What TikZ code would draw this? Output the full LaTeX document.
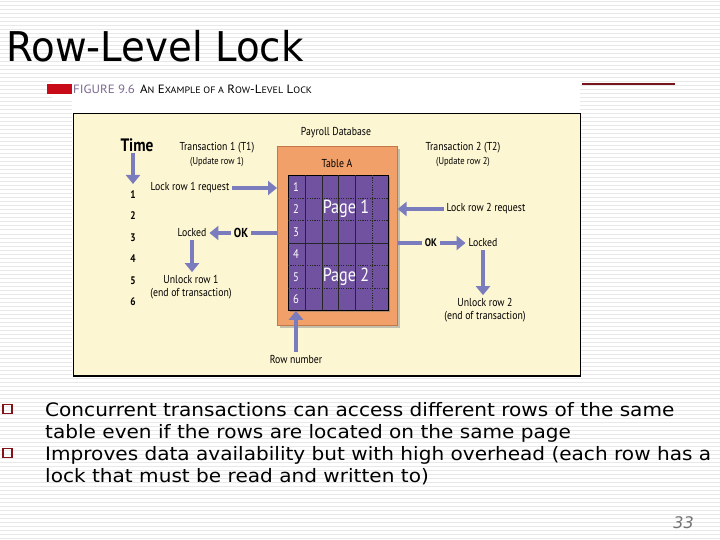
\documentclass[tikz,border=0pt]{standalone}
\usepackage{fontspec}
\usetikzlibrary{arrows.meta,calc,shadows}
\setmainfont{DejaVu Sans}
\newfontfamily\figfont[FakeStretch=0.85]{PT Sans}
\newfontfamily\capfont[FakeStretch=1.08]{PT Sans}
\newfontfamily\slidefont[FakeStretch=1.085]{DejaVu Sans}
\newfontfamily\titlefont[FakeStretch=0.945]{DejaVu Sans}
\definecolor{stripe}{RGB}{232,232,232}
\definecolor{panel}{RGB}{253,246,210}
\definecolor{arrowc}{RGB}{122,124,190}
\definecolor{orangeb}{RGB}{240,160,104}
\definecolor{oranged}{RGB}{196,120,72}
\definecolor{purpleg}{RGB}{112,82,160}
\definecolor{redbar}{RGB}{200,10,25}
\definecolor{capgray}{RGB}{125,105,145}
\definecolor{bulletred}{RGB}{130,20,25}
\definecolor{linered}{RGB}{120,20,30}
\newcommand\smc[1]{{\fontsize{9.3}{9.3}\selectfont #1}}
\tikzset{
  figtext/.style={inner sep=1pt, outer sep=2pt, align=center, font=\figfont\fontsize{11.5}{13}\selectfont},
  subtext/.style={inner sep=1pt, align=center, font=\figfont\fontsize{10}{11}\selectfont},
  numtext/.style={inner sep=1pt, font=\figfont\bfseries\fontsize{11}{11}\selectfont},
  rowtext/.style={inner sep=0pt, text=white, font=\figfont\fontsize{12.5}{12.5}\selectfont},
  pagetext/.style={inner sep=0pt, text=white, font=\figfont\fontsize{19}{19}\selectfont},
  arr/.style={draw=arrowc, line width=4.2pt, -{Triangle[length=9pt,width=14pt]}},
  bar/.style={draw=arrowc, line width=4.2pt},
  bullettext/.style={anchor=base west, inner sep=0pt, font=\slidefont\fontsize{18.5}{20}\selectfont},
  bulletbox/.style={draw=bulletred, line width=1.4pt, minimum size=9pt, inner sep=0pt},
  gridsolid/.style={draw=black!85, line width=0.6pt},
  griddot/.style={draw=black!85, line width=0.9pt, dash pattern=on 1.2pt off 1.2pt}
}
\begin{document}
\begin{tikzpicture}[x=1pt,y=-1pt]
\useasboundingbox (0,0) rectangle (720,540);
\fill[white] (0,0) rectangle (720,540);
\foreach \yy in {2,6,...,538} \draw[stripe, line width=1pt] (0,\yy) -- (720,\yy);

% title
\node[anchor=base west, inner sep=0pt, font=\titlefont\fontsize{41}{41}\selectfont] (title) at (6,62) {Row-Level Lock};

% figure area
\fill[white] (72,78) rectangle (580,378);
\fill[white] (52,78) rectangle (72,100);
\fill[redbar] (47,84) rectangle (72,94);
\draw[linered, line width=1.2pt] (582,84) -- (675,84);
\node[anchor=base west, inner sep=0pt, font=\capfont\fontsize{12}{12}\selectfont] (caption) at (73,94)
  {\textcolor{capgray}{FIGURE 9.6}\hspace{5pt}A\smc{N} E\smc{XAMPLE OF A} R\smc{OW}-L\smc{EVEL} L\smc{OCK}};

% yellow panel
\node[draw=black, fill=panel, line width=1pt, minimum width=507pt, minimum height=262pt, inner sep=0pt, anchor=north west] (panel) at (73,113) {};
\draw[black, line width=2.2pt] (panel.south west) -- (panel.south east);

% database
\node[figtext] (payroll) at (336,133) {Payroll Database};
\node[fill=orangeb, draw=oranged, line width=0.6pt, minimum width=120pt, minimum height=179pt, inner sep=0pt, anchor=north west,
      drop shadow={shadow xshift=3pt, shadow yshift=-3pt, fill=black!45}] (tbl) at (277,146) {};
\node[figtext] (tableA) at (337,163) {Table A};
\node[fill=purpleg, draw=black, line width=0.8pt, minimum width=100pt, minimum height=135pt, inner sep=0pt, anchor=north west,
      drop shadow={shadow xshift=2pt, shadow yshift=-2pt, fill=black!55}] (grid) at (288,175) {};
\foreach \xx in {305,322,338,355} \draw[gridsolid] (\xx,175) -- (\xx,310);
\draw[griddot] (372,175) -- (372,310);
\foreach \yy in {198,220,265,288} \draw[griddot] (288,\yy) -- (388,\yy);
\draw[gridsolid] (288,243) -- (388,243);
\draw[black, line width=1pt] (288,310) -- (388,310);
\node[rowtext] (r1) at (296,187) {1};
\node[rowtext] (r2) at (296,209) {2};
\node[rowtext] (r3) at (296,232) {3};
\node[rowtext] (r4) at (296,254) {4};
\node[rowtext] (r5) at (296,277) {5};
\node[rowtext] (r6) at (296,299) {6};
\node[pagetext] (page1) at (346,209) {Page 1};
\node[pagetext] (page2) at (346,277) {Page 2};

% row number
\node[figtext] (rownum) at (296,359) {Row number};
\draw[arr] (rownum.north) -- (rownum.north |- grid.south);

% time column
\node[inner sep=1pt, font=\figfont\bfseries\fontsize{18}{18}\selectfont] (time) at (137,145) {Time};
\coordinate (tend) at (133,184);
\draw[arr] (time.south -| tend) -- (tend);
\node[numtext] (t1) at (133,195) {1};
\node[numtext] (t2) at (133,216) {2};
\node[numtext] (t3) at (133,238) {3};
\node[numtext] (t4) at (133,259) {4};
\node[numtext] (t5) at (133,281) {5};
\node[numtext] (t6) at (133,302) {6};

% transaction 1
\node[figtext] (tr1) at (217,148) {Transaction 1 (T1)};
\node[subtext] (up1) at (217,162) {(Update row 1)};
\node[figtext] (req1) at (190,188) {Lock row 1 request};
\draw[arr] (req1.east) -- (req1.east -| tbl.west);
\node[figtext] (lk1) at (192,233) {Locked};
\node[figtext, font=\figfont\bfseries\fontsize{13}{13}\selectfont] (ok1) at (241,233) {OK};
\draw[bar] (ok1.east) -- (ok1.east -| tbl.west);
\draw[arr] (ok1.west) -- (lk1.east);
\node[figtext] (unl1) at (191,287) {Unlock row 1\\(end of transaction)};
\draw[arr] (lk1.south) -- (lk1.south |- unl1.north);

% transaction 2
\node[figtext] (tr2) at (463,148) {Transaction 2 (T2)};
\node[subtext] (up2) at (463,162) {(Update row 2)};
\node[figtext] (req2) at (486,209) {Lock row 2 request};
\draw[arr] (req2.west) -- (req2.west -| tbl.east);
\node[figtext, font=\figfont\bfseries\fontsize{11}{11}\selectfont] (ok2) at (431,243) {OK};
\node[figtext] (lk2) at (483,243) {Locked};
\draw[bar] (ok2.west) -- (ok2.west -| tbl.east);
\draw[arr] (ok2.east) -- (lk2.west);
\node[figtext] (unl2) at (485,310) {Unlock row 2\\(end of transaction)};
\draw[arr] (lk2.south) -- (lk2.south |- unl2.north);

% bullets
\node[bulletbox] (b1) at (7.5,409) {};
\node[bulletbox] (b2) at (7.5,453) {};
\node[bullettext] (l1) at (45,416) {Concurrent transactions can access different rows of the same};
\node[bullettext] (l2) at (45,438) {table even if the rows are located on the same page};
\node[bullettext] (l3) at (45,460) {Improves data availability but with high overhead (each row has a};
\node[bullettext] (l4) at (45,482) {lock that must be read and written to)};

\node[anchor=base east, inner sep=0pt, text=black!55, font=\itshape\fontsize{16}{16}\selectfont] (pnum) at (694,528) {33};
\end{tikzpicture}
\end{document}
